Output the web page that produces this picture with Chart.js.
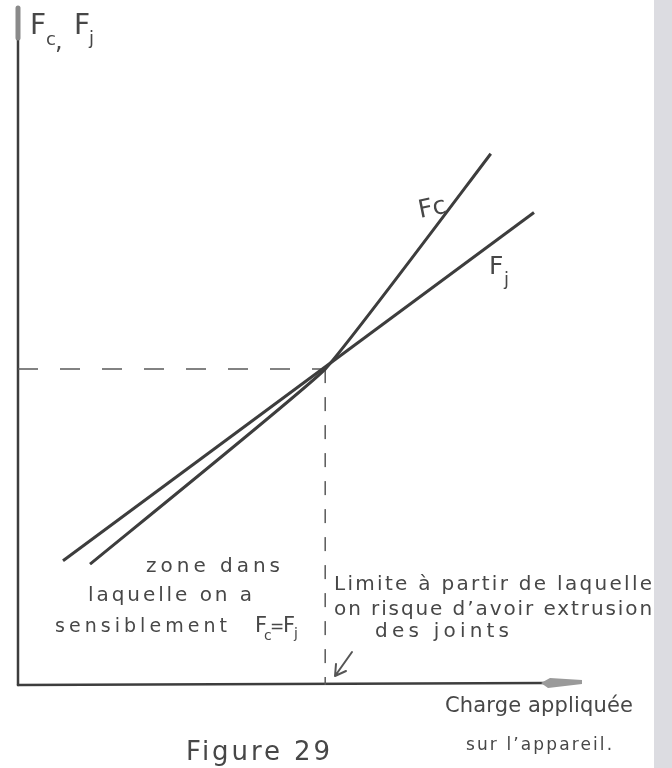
<!DOCTYPE html>
<html>
<head>
<meta charset="utf-8">
<script src="https://cdn.jsdelivr.net/npm/chart.js@4/dist/chart.umd.min.js"></script>
<style>
  html, body { margin: 0; padding: 0; background: #fff; }
  canvas { display: block; }
</style>
</head>
<body>
<canvas id="fig29" width="672" height="768"></canvas>
<script>
// Courbes (unités arbitraires 0-100)
const fcX = [12, 51.2, 78.8];
const fcY = [17.9, 46.8, 78.7];
const fjX = [7.5, 86];
const fjY = [18.4, 70];
// point de croisement Fc = Fj
const limiteX = [51.2];
const limiteY = [46.8];

const toPoints = (xs, ys) => xs.map((x, i) => ({ x: x, y: ys[i] }));

const INK = '#3d3d3d';
const FONT = '"DejaVu Sans", "Liberation Sans", sans-serif';

// texte manuscrit approximé : espacement ajusté à la largeur voulue
const write = (ctx, text, x, y, size, width) => {
    ctx.font = size + 'px ' + FONT;
    ctx.letterSpacing = '0px';
    if (width) {
        const w = ctx.measureText(text).width;
        const ls = (width - w) / Math.max(text.length - 1, 1);
        ctx.letterSpacing = ls.toFixed(2) + 'px';
    }
    ctx.fillText(text, x, y);
    ctx.letterSpacing = '0px';
};

const sketchPlugin = {
    id: 'sketch',
    beforeDatasetsDraw(chart) {
        const ctx = chart.ctx;
        const a = chart.chartArea;
        ctx.save();
        ctx.lineCap = 'round';
        // axe vertical
        ctx.strokeStyle = INK;
        ctx.lineWidth = 2.5;
        ctx.beginPath();
        ctx.moveTo(a.left, 8);
        ctx.lineTo(a.left, a.bottom);
        ctx.stroke();
        ctx.strokeStyle = '#8a8a8a';
        ctx.lineWidth = 5;
        ctx.beginPath();
        ctx.moveTo(a.left, 8);
        ctx.lineTo(a.left, 38);
        ctx.stroke();
        // axe horizontal + flèche
        ctx.strokeStyle = INK;
        ctx.lineWidth = 2.5;
        ctx.beginPath();
        ctx.moveTo(a.left, a.bottom);
        ctx.lineTo(545, a.bottom - 2);
        ctx.stroke();
        ctx.fillStyle = '#9a9a9a';
        ctx.beginPath();
        ctx.moveTo(541, a.bottom - 2);
        ctx.lineTo(550, a.bottom - 7);
        ctx.lineTo(582, a.bottom - 5);
        ctx.lineTo(582, a.bottom - 1);
        ctx.lineTo(548, a.bottom + 3);
        ctx.closePath();
        ctx.fill();
        ctx.restore();
    },
    afterDraw(chart) {
        const ctx = chart.ctx;
        ctx.save();
        ctx.fillStyle = '#474747';
        ctx.textBaseline = 'alphabetic';

        // titre de l'axe vertical : Fc, Fj
        write(ctx, 'F', 30, 34, 28);
        write(ctx, 'c', 46, 45, 18);
        write(ctx, ',', 55, 49, 24);
        write(ctx, 'F', 74, 34, 28);
        write(ctx, 'j', 89, 44, 18);

        // étiquettes des courbes
        ctx.save();
        ctx.translate(420, 218);
        ctx.rotate(-0.2);
        write(ctx, 'Fc', 0, 0, 25);
        ctx.restore();
        write(ctx, 'F', 489, 274, 25);
        write(ctx, 'j', 504, 285, 18);

        // zone
        write(ctx, 'zone dans', 146, 572, 20, 134);
        write(ctx, 'laquelle on a', 88, 601, 20, 164);
        write(ctx, 'sensiblement', 55, 632, 19, 172);
        write(ctx, 'F', 255, 632, 21);
        write(ctx, 'c', 264, 640, 14);
        write(ctx, '=', 270, 632, 17);
        write(ctx, 'F', 283, 632, 21);
        write(ctx, 'j', 294, 638, 14);

        // limite
        write(ctx, 'Limite à partir de laquelle', 334, 590, 20, 318);
        write(ctx, 'on risque d\u2019avoir extrusion', 334, 615, 20, 318);
        write(ctx, 'des joints', 375, 637, 20, 134);

        // petite flèche vers l'axe
        ctx.strokeStyle = '#555';
        ctx.lineWidth = 2;
        ctx.lineCap = 'round';
        ctx.beginPath();
        ctx.moveTo(352, 652);
        ctx.lineTo(335, 676);
        ctx.moveTo(335, 676);
        ctx.lineTo(336, 664);
        ctx.moveTo(335, 676);
        ctx.lineTo(346, 671);
        ctx.stroke();

        // axe horizontal : titre
        write(ctx, 'Charge appliquée', 445, 712, 21, 188);
        write(ctx, 'sur l\u2019appareil.', 466, 750, 17, 146);

        // légende de la figure
        write(ctx, 'Figure 29', 186, 760, 26, 144);

        // bande grise du bord de page
        ctx.fillStyle = '#dcdce1';
        ctx.fillRect(654, 0, 18, 768);
        ctx.restore();
    }
};

const createSketchChart = () => {
    const ctx = document.getElementById('fig29').getContext('2d');
    new Chart(ctx, {
        type: 'line',
        data: {
            datasets: [{
                label: 'Fc',
                data: toPoints(fcX, fcY),
                borderColor: INK,
                borderWidth: 3,
                tension: 0.1
            }, {
                label: 'Fj',
                data: toPoints(fjX, fjY),
                borderColor: INK,
                borderWidth: 3,
                tension: 0
            }, {
                label: 'limite horizontale',
                data: [{ x: 0, y: limiteY[0] }, { x: limiteX[0], y: limiteY[0] }],
                borderColor: '#5a5a5a',
                borderWidth: 1.5,
                borderDash: [20, 22]
            }, {
                label: 'limite verticale',
                data: [{ x: limiteX[0], y: limiteY[0] }, { x: limiteX[0], y: 0 }],
                borderColor: '#5a5a5a',
                borderWidth: 1.5,
                borderDash: [14, 14]
            }]
        },
        options: {
            responsive: false,
            animation: false,
            layout: { padding: { left: 18, top: 10, right: 54, bottom: 83 } },
            elements: { point: { radius: 0 } },
            scales: {
                x: { type: 'linear', min: 0, max: 100, display: false },
                y: { type: 'linear', min: 0, max: 100, display: false }
            },
            plugins: {
                legend: { display: false },
                tooltip: { enabled: false }
            }
        },
        plugins: [sketchPlugin]
    });
};

document.addEventListener('DOMContentLoaded', createSketchChart);
</script>
</body>
</html>
